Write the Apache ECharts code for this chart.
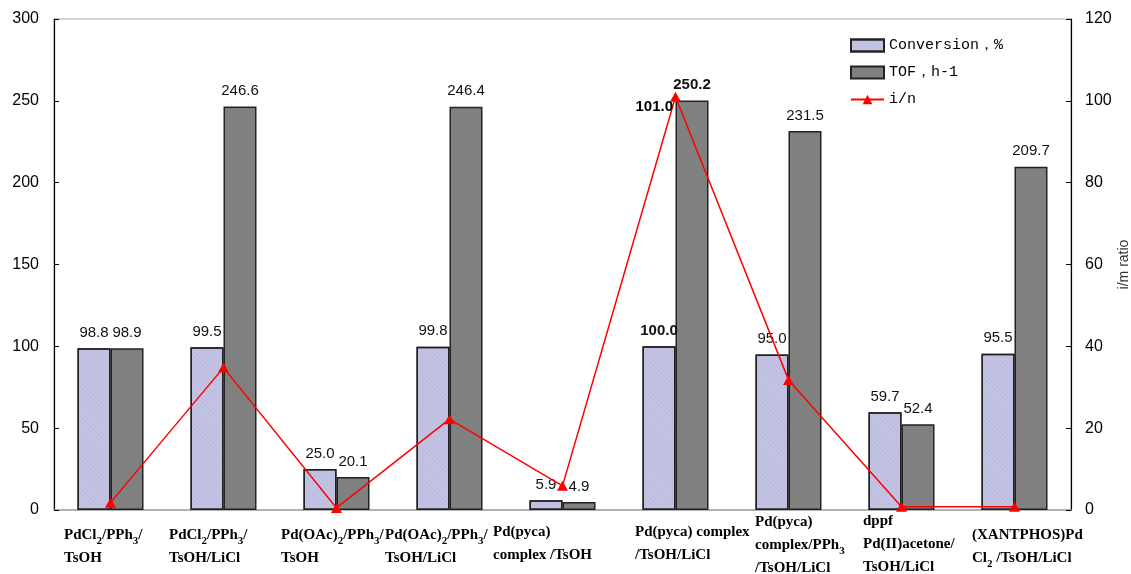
<!DOCTYPE html>
<html>
<head>
<meta charset="utf-8">
<title>Pd catalyst screening</title>
<script src="https://cdn.jsdelivr.net/npm/echarts@6/dist/echarts.min.js"></script>
<style>
  html, body { margin: 0; padding: 0; background: #fff; }
  #chart { width: 1131px; height: 574px; }
</style>
</head>
<body>
<div id="chart"></div>
<script>
// Catalyst systems; "_n" marks a subscript digit
const categories = [
  'PdCl_2/PPh_3/\nTsOH',
  'PdCl_2/PPh_3/\nTsOH/LiCl',
  'Pd(OAc)_2/PPh_3/\nTsOH',
  'Pd(OAc)_2/PPh_3/\nTsOH/LiCl',
  'Pd(pyca)\ncomplex /TsOH',
  'Pd(pyca) complex\n/TsOH/LiCl',
  'Pd(pyca)\ncomplex/PPh_3\n/TsOH/LiCl',
  'dppf\nPd(II)acetone/\nTsOH/LiCl',
  '(XANTPHOS)Pd\nCl_2 /TsOH/LiCl'
];
const seriesNames = ['Conversion，%', 'TOF，h-1', 'i/n'];
const conversion = [98.8, 99.5, 25.0, 99.8, 5.9, 100.0, 95.0, 59.7, 95.5];
const tof = [98.9, 246.6, 20.1, 246.4, 4.9, 250.2, 231.5, 52.4, 209.7];
const ratio = [1.8, 34.8, 0.5, 22.2, 5.9, 101.0, 31.8, 0.8, 0.8];
const leftTicks = { min: 0, max: 300, interval: 50 };
const rightTicks = { min: 0, max: 120, interval: 20 };
const rightAxisName = 'i/m ratio';

// the best system gets bold value labels
const highlightIndex = 5;

// horizontal nudges of each category caption (px) and extra bottom padding
const capShift = [47, 31, 29, 11, 1, 59, 73, 63, 55];
const capLift = [0, 0, 0, 0, 6, 6, 4, 6, 0];

function richCaption(text) {
  return text.split('\n').map(function (line) {
    const parts = line.split(/_(\d)/);
    let out = '';
    parts.forEach(function (p, i) {
      if (!p) return;
      out += (i % 2 === 1) ? '{s|' + p + '}' : '{b|' + p + '}';
    });
    return out;
  }).join('\n');
}

const xData = categories.map(function (c, i) {
  return {
    value: c,
    textStyle: {
      align: 'center',
      verticalAlign: 'middle',
      padding: [0, 0, capLift[i], capShift[i]]
    }
  };
});

function barData(values) {
  return values.map(function (v, i) {
    return i === highlightIndex
      ? { value: v, label: { fontWeight: 'bold' } }
      : v;
  });
}

const chart = echarts.init(document.getElementById('chart'), null, { renderer: 'canvas' });

const numFont = 'Liberation Sans, Arial, sans-serif';
const capFont = 'Liberation Serif, Times New Roman, serif';

const valueLabel = function (p) { return p.value.toFixed(1); };

chart.setOption({
  backgroundColor: '#ffffff',
  animation: false,
  grid: {
    left: 54, right: 60, top: 19, bottom: 64,
    show: true, borderColor: '#a6a6a6', borderWidth: 1,
    outerBoundsMode: 'none'
  },
  legend: {
    orient: 'vertical',
    left: 845, top: 33,
    itemWidth: 33, itemHeight: 12, itemGap: 12,
    data: [
      { name: seriesNames[0], icon: 'rect' },
      { name: seriesNames[1], icon: 'rect' },
      { name: seriesNames[2] }
    ],
    textStyle: { fontFamily: 'Liberation Mono, monospace', fontSize: 15, color: '#000' }
  },
  xAxis: {
    type: 'category',
    data: xData,
    axisLine: { lineStyle: { color: '#a6a6a6', width: 1.5 } },
    axisTick: { show: false },
    axisLabel: {
      interval: 0,
      margin: 37,
      align: 'center',
      verticalAlign: 'middle',
      width: 140,
      overflow: 'none',
      formatter: function (v) { return richCaption(v); },
      rich: {
        b: { fontFamily: capFont, fontWeight: 'bold', fontSize: 15, color: '#000', align: 'left', lineHeight: 23 },
        s: { fontFamily: capFont, fontWeight: 'bold', fontSize: 11, color: '#000', align: 'left', lineHeight: 14, verticalAlign: 'bottom' }
      }
    }
  },
  yAxis: [
    {
      type: 'value',
      min: leftTicks.min, max: leftTicks.max, interval: leftTicks.interval,
      splitLine: { show: false },
      axisLine: { show: true, lineStyle: { color: '#000', width: 1.2 } },
      axisTick: { show: true, inside: true, length: 5, lineStyle: { color: '#000' } },
      axisLabel: { fontFamily: numFont, fontSize: 16, color: '#000', margin: 15 }
    },
    {
      type: 'value',
      position: 'right',
      min: rightTicks.min, max: rightTicks.max, interval: rightTicks.interval,
      name: rightAxisName,
      nameLocation: 'middle',
      nameRotate: 90,
      nameGap: 46,
      nameMoveOverlap: false,
      nameTextStyle: { fontFamily: numFont, fontSize: 14, color: '#333' },
      splitLine: { show: false },
      axisLine: { show: true, lineStyle: { color: '#000', width: 1.2 } },
      axisTick: { show: true, inside: true, length: 5, lineStyle: { color: '#000' } },
      axisLabel: { fontFamily: numFont, fontSize: 16, color: '#000', margin: 14 }
    }
  ],
  series: [
    {
      name: seriesNames[0],
      type: 'bar',
      yAxisIndex: 0,
      barWidth: 33,
      barGap: '0%',
      data: barData(conversion),
      itemStyle: {
        color: '#c4c4e4',
        borderColor: '#222',
        borderWidth: 1.5,
        decal: {
          symbol: 'rect',
          color: 'rgba(160,160,205,0.3)',
          dashArrayX: [1, 0],
          dashArrayY: [1, 2],
          rotation: Math.PI / 4
        }
      },
      label: {
        show: true, position: 'top', distance: 8,
        fontFamily: numFont, fontSize: 15, color: '#111',
        formatter: valueLabel
      }
    },
    {
      name: seriesNames[1],
      type: 'bar',
      yAxisIndex: 0,
      barWidth: 33,
      barGap: '0%',
      data: barData(tof),
      itemStyle: { color: '#808080', borderColor: '#222', borderWidth: 1.5 },
      label: {
        show: true, position: 'top', distance: 8,
        fontFamily: numFont, fontSize: 15, color: '#111',
        formatter: valueLabel
      }
    },
    {
      name: seriesNames[2],
      type: 'line',
      yAxisIndex: 1,
      data: ratio.map(function (v, i) {
        return i === highlightIndex
          ? { value: v, label: { show: true, position: 'left', offset: [8, 10], fontWeight: 'bold',
              fontFamily: numFont, fontSize: 15, color: '#000', formatter: valueLabel } }
          : v;
      }),
      symbol: 'triangle',
      symbolSize: [11, 10],
      lineStyle: { color: '#ff0000', width: 1.5 },
      itemStyle: { color: '#ff0000' },
      z: 5
    }
  ]
});
</script>
</body>
</html>
